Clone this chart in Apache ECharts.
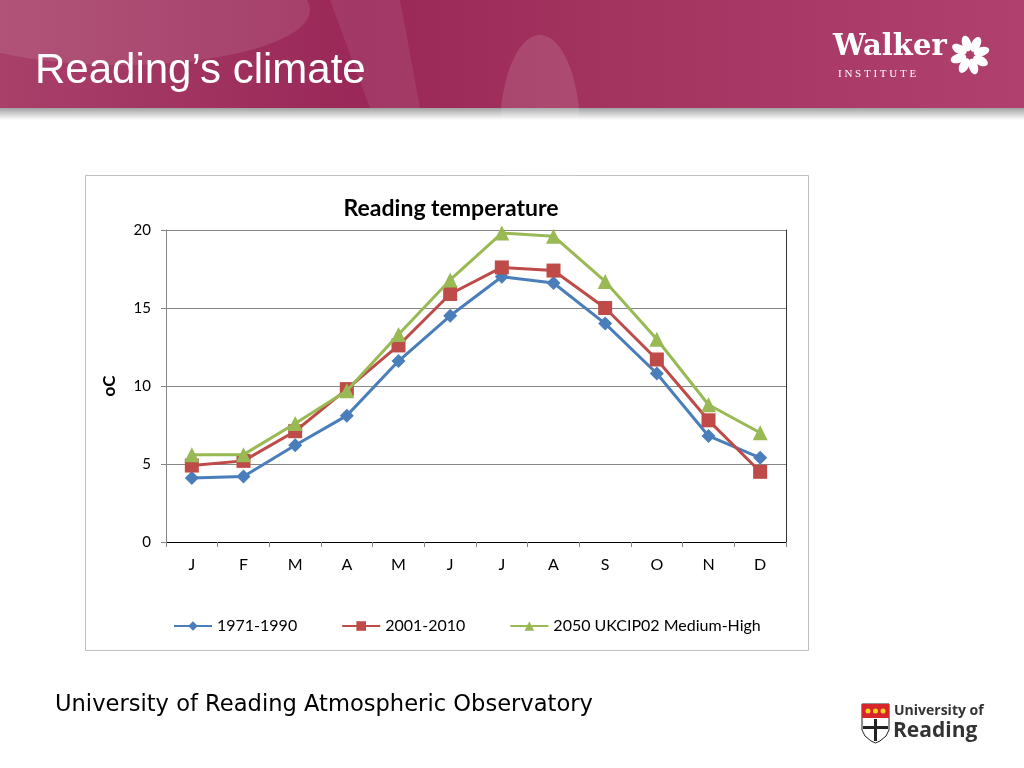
<!DOCTYPE html>
<html><head><meta charset="utf-8">
<script src="https://cdn.jsdelivr.net/npm/echarts@6/dist/echarts.min.js"></script>
<style>html,body{margin:0;padding:0;background:#fff}#c{width:1024px;height:768px}</style>
</head><body><div id="c"></div>
<script>
var months = ['J','F','M','A','M','J','J','A','S','O','N','D'];
var s1971 = [4.1, 4.2, 6.2, 8.1, 11.6, 14.5, 17.0, 16.6, 14.0, 10.8, 6.8, 5.4];
var s2001 = [4.9, 5.2, 7.1, 9.8, 12.6, 15.9, 17.6, 17.4, 15.0, 11.7, 7.8, 4.5];
var s2050 = [5.6, 5.6, 7.6, 9.7, 13.3, 16.8, 19.8, 19.6, 16.7, 13.0, 8.8, 7.0];
var names = ['1971-1990', '2001-2010', '2050 UKCIP02 Medium-High'];
var yTicks = [0, 5, 10, 15, 20];

var chart = echarts.init(document.getElementById('c'));
var cf = 'Lato, "Open Sans", sans-serif';

var petals = [];
for (var i = 0; i < 8; i++) {
  var a = i * Math.PI / 4;
  petals.push({
    type: 'ellipse', z: 5,
    shape: { cx: 0, cy: -12, rx: 4.5, ry: 8 },
    x: 970, y: 55, rotation: -a - 0.5,
    style: { fill: '#fff' }
  });
}

chart.setOption({
  backgroundColor: '#fff',
  animation: false,
  title: {
    text: 'Reading temperature', left: 446, top: 192, textAlign: 'center',
    textStyle: { fontFamily: cf, fontSize: 23, fontWeight: 'bold', color: '#000' }
  },
  legend: {
    data: names, left: 168, top: 613, itemWidth: 38, itemHeight: 12, itemGap: 44,
    textStyle: { fontFamily: cf, fontSize: 16, color: '#000' }
  },
  grid: { left: 166, right: 238, top: 230, bottom: 226 },
  xAxis: [{
    type: 'category', data: months, boundaryGap: true,
    axisLine: { lineStyle: { color: '#868686' } },
    axisTick: { show: true, interval: 0, length: 5, lineStyle: { color: '#868686' } },
    axisLabel: { fontFamily: cf, fontSize: 16, color: '#000', margin: 15, interval: 0 }
  }, {
    type: 'category', data: months, position: 'top',
    axisLine: { show: true, lineStyle: { color: '#000' } },
    axisTick: { show: false }, axisLabel: { show: false }
  }],
  yAxis: [{
    type: 'value', min: 0, max: 20, interval: 5,
    name: 'oC', nameLocation: 'middle', nameGap: 48, nameRotate: 90,
    nameTextStyle: { fontFamily: cf, fontSize: 17, fontWeight: 'bold', color: '#000' },
    axisLine: { show: true, lineStyle: { color: '#868686' } },
    axisTick: { show: true, length: 5, lineStyle: { color: '#868686' } },
    axisLabel: { fontFamily: cf, fontSize: 15, color: '#000', margin: 15,
      formatter: function (v) { return yTicks.indexOf(v) >= 0 ? String(v) : ''; } },
    splitLine: { lineStyle: { color: '#868686' } }
  }, {
    type: 'value', min: 0, max: 20, interval: 5, position: 'right',
    axisLine: { show: true, lineStyle: { color: '#333' } },
    axisTick: { show: false }, axisLabel: { show: false }, splitLine: { show: false }
  }],
  series: [{
    name: names[0], type: 'line', data: s1971, symbol: 'diamond', symbolSize: 14,
    itemStyle: { color: '#4a7ebb' }, lineStyle: { width: 3, color: '#4a7ebb' }, z: 3
  }, {
    name: names[1], type: 'line', data: s2001, symbol: 'rect', symbolSize: 14,
    itemStyle: { color: '#be4b48' }, lineStyle: { width: 3, color: '#be4b48' }, z: 4
  }, {
    name: names[2], type: 'line', data: s2050, symbol: 'triangle', symbolSize: 15,
    itemStyle: { color: '#98b954' }, lineStyle: { width: 3, color: '#98b954' }, z: 5
  }],
  graphic: [
    { type: 'rect', z: -100, shape: { x: 85.5, y: 175.5, width: 723, height: 475 },
      style: { fill: '#fff', stroke: '#bfbfbf', lineWidth: 1 } },
    { type: 'rect', z: 1, shape: { x: 0, y: 104, width: 1024, height: 16 },
      style: { fill: new echarts.graphic.LinearGradient(0, 0, 0, 1, [
        { offset: 0, color: '#7f7f7f' }, { offset: 0.4, color: '#b5b5b5' }, { offset: 1, color: '#ffffff' }]) } },
    { type: 'rect', z: 2, shape: { x: 0, y: 0, width: 1024, height: 108 },
      style: { fill: new echarts.graphic.LinearGradient(0, 0, 1, 0, [
        { offset: 0, color: '#a8406a' }, { offset: 0.35, color: '#9a2858' },
        { offset: 0.6, color: '#a3335f' }, { offset: 1, color: '#b0406e' }]) } },
    { type: 'ellipse', z: 3, shape: { cx: 120, cy: 10, rx: 190, ry: 55 },
      style: { fill: 'rgba(255,255,255,0.10)' } },
    { type: 'ellipse', z: 3, shape: { cx: 540, cy: 130, rx: 40, ry: 95 },
      style: { fill: 'rgba(255,255,255,0.12)' } },
    { type: 'polygon', z: 3, shape: { points: [[330, 0], [400, 0], [420, 108], [370, 108]] },
      style: { fill: 'rgba(255,255,255,0.08)' } },
    { type: 'text', z: 6, x: 35, y: 71,
      style: { text: 'Reading\u2019s climate', fill: '#fff', fontFamily: '"Liberation Sans", Arial, sans-serif',
        fontSize: 42, verticalAlign: 'middle' } },
    { type: 'text', z: 6, x: 833, y: 47,
      style: { text: 'Walker', fill: '#fff', fontFamily: '"DejaVu Serif", serif', fontWeight: 'bold',
        fontSize: 29, verticalAlign: 'middle' } },
    { type: 'text', z: 6, x: 838, y: 74,
      style: { text: 'I N S T I T U T E', fill: '#fff', fontFamily: '"Liberation Serif", serif',
        fontSize: 11, verticalAlign: 'middle' } }
  ].concat(petals).concat([
    { type: 'text', z: 6, x: 55, y: 705,
      style: { text: 'University of Reading Atmospheric Observatory', fill: '#000',
        fontFamily: '"DejaVu Sans", sans-serif', fontSize: 22.6, verticalAlign: 'middle' } },
    { type: 'polygon', z: 6,
      shape: { points: [[862, 704], [889, 704], [889, 730], [886, 736], [880, 741], [875.5, 743], [871, 741], [865, 736], [862, 730]] },
      style: { fill: '#fff', stroke: '#222', lineWidth: 1 } },
    { type: 'rect', z: 7, shape: { x: 862, y: 704, width: 27, height: 14 }, style: { fill: '#d7262b' } },
    { type: 'circle', z: 8, shape: { cx: 868, cy: 711, r: 2.5 }, style: { fill: '#f5d320' } },
    { type: 'circle', z: 8, shape: { cx: 875.5, cy: 711, r: 2.5 }, style: { fill: '#f5d320' } },
    { type: 'circle', z: 8, shape: { cx: 883, cy: 711, r: 2.5 }, style: { fill: '#f5d320' } },
    { type: 'rect', z: 8, shape: { x: 874, y: 719, width: 3, height: 22 }, style: { fill: '#222' } },
    { type: 'rect', z: 8, shape: { x: 863, y: 726, width: 25, height: 3 }, style: { fill: '#222' } },
    { type: 'text', z: 6, x: 894, y: 711,
      style: { text: 'University of', fill: '#333', fontFamily: '"Open Sans", sans-serif',
        fontSize: 14, fontWeight: 'bold', verticalAlign: 'middle' } },
    { type: 'text', z: 6, x: 893, y: 731,
      style: { text: 'Reading', fill: '#333', fontFamily: '"Open Sans", sans-serif',
        fontSize: 21, fontWeight: 'bold', verticalAlign: 'middle' } }
  ])
});
</script></body></html>
